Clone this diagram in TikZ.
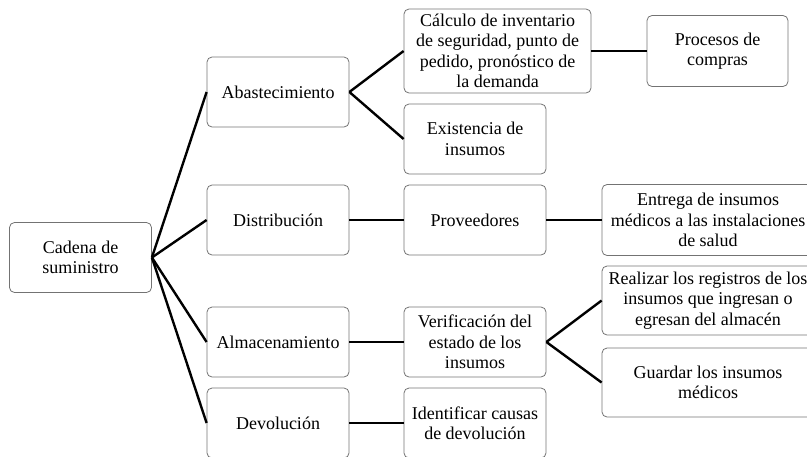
\documentclass[tikz,border=0pt]{standalone}
\usepackage{fontspec}
\setmainfont{Liberation Serif}
\usepackage{tikz}

\begin{document}
\begin{tikzpicture}[x=1pt,y=-1pt,
    bloque/.style ={rectangle, rounded corners=5pt, draw=black!55, line width=0.8pt,
      align=center, inner sep=0pt, minimum width=142pt, minimum height=70pt,
      font=\fontsize{18}{20.5}\selectfont},
    enlace/.style ={line width=2.4pt}]
   \useasboundingbox (0,0) rectangle (807,456);
   \node[bloque] (A) at (80.5,257.5) {Cadena de\\suministro};
   \node[bloque] (B) at (278,92) {Abastecimiento};
   \node[bloque] (C) at (278,220) {Distribución};
   \node[bloque] (D) at (278,342) {Almacenamiento};
   \node[bloque] (E) at (278,423) {Devolución};
   \node[bloque, minimum width=187pt, minimum height=84pt] (F) at (497.5,51)
      {Cálculo de inventario\\de seguridad, punto de\\pedido, pronóstico de\\la demanda};
   \node[bloque] (G) at (475,139) {Existencia de\\insumos};
   \node[bloque] (H) at (475,220) {Proveedores};
   \node[bloque] (I) at (475,342) {Verificación del\\estado de los\\insumos};
   \node[bloque] (J) at (475,423) {Identificar causas\\de devolución};
   \node[bloque, minimum width=141pt, minimum height=71pt] (K) at (717.5,51) {Procesos de\\compras};
   \node[bloque, minimum width=212pt, minimum height=71pt] (L) at (708,220)
      {Entrega de insumos\\médicos a las instalaciones\\de salud};
   \node[bloque, minimum width=212pt, minimum height=69pt] (M) at (708,300.5)
      {Realizar los registros de los\\insumos que ingresan o\\egresan del almacén};
   \node[bloque, minimum width=212pt, minimum height=69pt] (N) at (708,382.5)
      {Guardar los insumos\\médicos};
   \draw[enlace] (A.east) to (B.west);
   \draw[enlace] (A.east) to (C.west);
   \draw[enlace] (A.east) to (D.west);
   \draw[enlace] (A.east) to (E.west);
   \draw[enlace] (B.east) to (F.west);
   \draw[enlace] (B.east) to (G.west);
   \draw[enlace] (F.east) to (K.west);
   \draw[enlace] (C.east) to (H.west);
   \draw[enlace] (H.east) to (L.west);
   \draw[enlace] (D.east) to (I.west);
   \draw[enlace] (I.east) to (M.west);
   \draw[enlace] (I.east) to (N.west);
   \draw[enlace] (E.east) to (J.west);
 \end{tikzpicture}
\end{document}
